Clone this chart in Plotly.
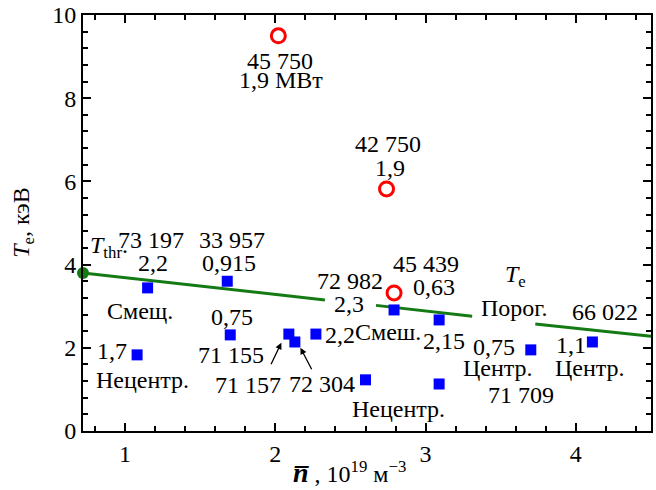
import plotly.graph_objects as go

# --- data ---
red_x = [2.02, 2.74, 2.79]
red_y = [9.50, 5.82, 3.32]

blue_x = [1.08, 1.15, 1.68, 1.70, 2.09, 2.13, 2.27, 2.60, 2.79, 3.09, 3.09, 3.70, 4.11]
blue_y = [1.83, 3.44, 3.60, 2.31, 2.33, 2.14, 2.33, 1.23, 2.91, 2.67, 1.13, 1.95, 2.14]

thr_x = [0.72, 2.33, None, 2.67, 3.31, None, 3.73, 4.50]
thr_y = [3.80, 3.15, None, 3.02, 2.76, None, 2.57, 2.28]

thr_start_x = [0.72]
thr_start_y = [3.80]

x_ticks = [1, 2, 3, 4]
y_ticks = [0, 2, 4, 6, 8, 10]

FONT = "Liberation Serif"
FS = 24
GREEN = "rgb(20,122,20)"

fig = go.Figure()
fig.add_trace(go.Scatter(x=thr_x, y=thr_y, mode="lines",
                         line=dict(color=GREEN, width=3), connectgaps=False,
                         hoverinfo="skip", showlegend=False))
fig.add_trace(go.Scatter(x=thr_start_x, y=thr_start_y, mode="markers",
                         marker=dict(color=GREEN, size=12), cliponaxis=False,
                         showlegend=False))
fig.add_trace(go.Scatter(x=blue_x, y=blue_y, mode="markers",
                         marker=dict(symbol="square", color="#0000ff", size=11),
                         showlegend=False))
fig.add_trace(go.Scatter(x=red_x, y=red_y, mode="markers",
                         marker=dict(symbol="circle-open", color="#ff0000", size=14,
                                     line=dict(width=3, color="#ff0000")),
                         showlegend=False))

labels = [
    ("45 750", 2.033, 8.89), ("1,9 МВт", 2.04, 8.44),
    ("42 750", 2.747, 6.90), ("1,9", 2.76, 6.32),
    ("73 197", 1.173, 4.59), ("2,2", 1.187, 4.04),
    ("33 957", 1.713, 4.59), ("0,915", 1.693, 4.04),
    ("Смещ.", 1.10, 2.88), ("0,75", 1.713, 2.74),
    ("1,7", 0.913, 1.92), ("Нецентр.", 1.113, 1.23),
    ("71 155", 1.707, 1.83), ("71 157", 1.82, 1.11), ("72 304", 2.313, 1.13),
    ("72 982", 2.50, 3.61), ("2,3", 2.487, 3.05),
    ("45 439", 3.0, 4.01), ("0,63", 3.053, 3.46),
    ("2,2", 2.427, 2.31), ("Смеш.", 2.753, 2.38), ("2,15", 3.12, 2.16),
    ("Нецентр.", 2.82, 0.53),
    ("0,75", 3.453, 2.02), ("Центр.", 3.48, 1.51), ("71 709", 3.633, 0.865),
    ("1,1", 3.967, 2.07), ("Центр.", 4.093, 1.51), ("66 022", 4.193, 2.86),
    ("Порог.", 3.587, 2.96), ("<i>T</i><sub>e</sub>", 3.60, 3.73),
    ("<i>T</i><sub>thr</sub>.", 0.89, 4.42),
]
for txt, x, y in labels:
    fig.add_annotation(x=x, y=y, text=txt, showarrow=False,
                       font=dict(family=FONT, size=FS, color="black"),
                       xanchor="center", yanchor="middle")

# arrows
for hx, hy, ax, ay in [(2.04, 2.12, -11, 23), (2.167, 2.0, 12, 23)]:
    fig.add_annotation(x=hx, y=hy, text="", showarrow=True, ax=ax, ay=ay,
                       arrowhead=2, arrowsize=1, arrowwidth=1.3, arrowcolor="black")

# axis titles
fig.add_annotation(xref="paper", yref="paper", x=-0.106, y=0.5,
                   text="<i>T</i><sub>e</sub>, кэВ", textangle=-90, showarrow=False,
                   font=dict(family=FONT, size=FS, color="black"),
                   xanchor="center", yanchor="middle")
fig.add_annotation(xref="paper", yref="paper", x=0.47, y=-0.099,
                   text="<span style='font-size:28px'><b><i>n\u0305</i></b></span> , "
                        "10<sup>19</sup> м<sup>\u22123</sup>",
                   showarrow=False,
                   font=dict(family=FONT, size=FS, color="black"),
                   xanchor="center", yanchor="middle")

axis_common = dict(showline=True, linecolor="black", linewidth=2, mirror="ticks",
                   ticks="inside", ticklen=8, tickwidth=1.5, tickcolor="black",
                   showgrid=False, zeroline=False, ticklabeloverflow="allow",
                   tickfont=dict(family=FONT, size=FS, color="black"))

fig.update_xaxes(range=[0.72, 4.5], tickvals=x_ticks,
                 minor=dict(dtick=0.2, tick0=0, ticks="inside", ticklen=5,
                            tickwidth=1.5, tickcolor="black", showgrid=False),
                 **axis_common)
fig.update_yaxes(range=[0, 10], tickvals=y_ticks,
                 minor=dict(dtick=0.4, tick0=0, ticks="inside", ticklen=5,
                            tickwidth=1.5, tickcolor="black", showgrid=False),
                 **axis_common)

fig.update_layout(width=656, height=490,
                  margin=dict(l=83, r=5, t=15, b=59, autoexpand=False),
                  plot_bgcolor="white", paper_bgcolor="white",
                  font=dict(family=FONT, size=FS, color="black"))

fig.write_html("out.html", config={"displayModeBar": False},
               post_script="document.body.style.margin='0px';")
